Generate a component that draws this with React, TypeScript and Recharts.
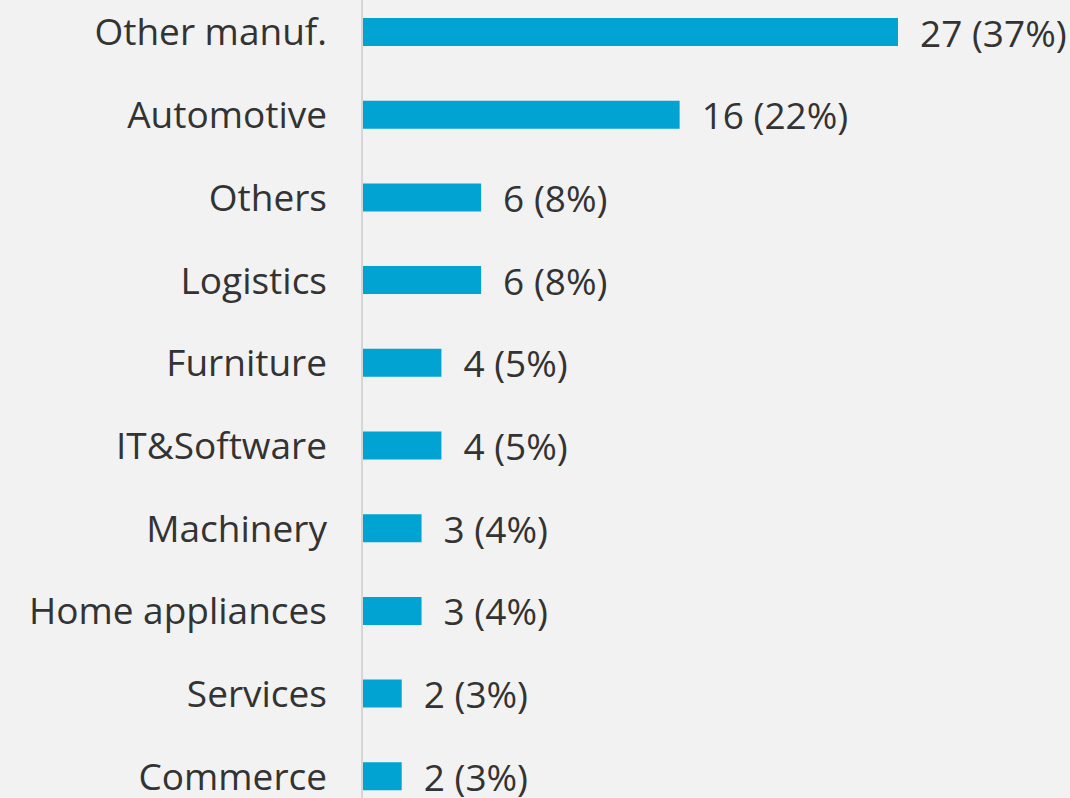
import { Bar, BarChart, LabelList, XAxis, YAxis } from 'recharts';

const categories = [
  'Other manuf.',
  'Automotive',
  'Others',
  'Logistics',
  'Furniture',
  'IT&Software',
  'Machinery',
  'Home appliances',
  'Services',
  'Commerce',
];
const counts = [27, 16, 6, 6, 4, 4, 3, 3, 2, 2];
const shares = [37, 22, 8, 8, 5, 5, 4, 4, 3, 3];

const data = categories.map((name, i) => ({
  name,
  count: counts[i],
  share: shares[i],
}));

const font = '"Open Sans", sans-serif';
const textSize = 37;

export default function App() {
  return (
    <div
      style={{
        position: 'fixed',
        left: 0,
        top: 0,
        width: 1070,
        height: 798,
        overflow: 'hidden',
        background: '#f2f2f2',
      }}
    >
      <div style={{ position: 'absolute', left: 0, top: -9 }}>
        <BarChart
          width={1070}
          height={827}
          data={data}
          layout="vertical"
          margin={{ top: 0, right: 172, bottom: 0, left: 0 }}
        >
          <XAxis type="number" hide domain={[0, 27]} />
          <YAxis
            dataKey="name"
            type="category"
            width={362}
            tickLine={false}
            tickSize={0}
            tickMargin={35}
            axisLine={{ stroke: '#d6d6d6', strokeWidth: 2 }}
            tick={{ fontSize: textSize, fill: '#333333', fontFamily: font }}
          />
          <Bar dataKey="count" fill="#00a3d1" barSize={28} isAnimationActive={false}>
            <LabelList
              dataKey="count"
              content={(props: any) => {
                const { x, y, width, height, index } = props;
                return (
                  <text
                    x={x + width + 22}
                    y={y + height / 2}
                    dominantBaseline="central"
                    fill="#333333"
                    fontSize={textSize}
                    fontFamily={font}
                  >
                    {`${counts[index]} (${shares[index]}%)`}
                  </text>
                );
              }}
            />
          </Bar>
        </BarChart>
      </div>
    </div>
  );
}
